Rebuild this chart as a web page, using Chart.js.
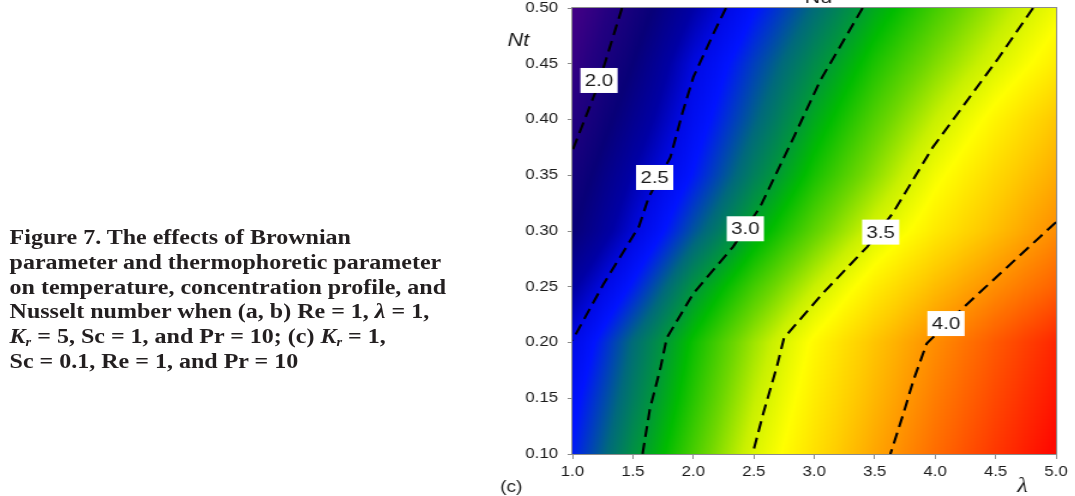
<!DOCTYPE html>
<html>
<head>
<meta charset="utf-8">
<script src="https://cdn.jsdelivr.net/npm/chart.js"></script>
<style>
  html, body { margin: 0; padding: 0; background: #fff; overflow: hidden; }
  /* the source figure is stretched sideways, so the whole page is too */
  #page { position: absolute; left: 0; top: 0; width: 896px; height: 496px; transform: scaleX(1.2); transform-origin: 0 0; }
  #chart { position: absolute; left: 0; top: 0; }
  #caption { position: absolute; left: 8px; top: 225px; font: bold 20px 'Liberation Serif', 'Times New Roman', serif; line-height: 24.8px; color: #231f20; white-space: nowrap; }
  #caption sub { font-size: 12px; vertical-align: -3px; line-height: 0; }
</style>
</head>
<body>
<div id="page">
  <div id="caption">
    Figure 7. The effects of Brownian<br>
    parameter and thermophoretic parameter<br>
    on temperature, concentration profile, and<br>
    Nusselt number when (a, b) Re = 1, <i>λ</i> = 1,<br>
    <i>K</i><sub><i>r</i></sub> = 5, Sc = 1, and Pr = 10; (c) <i>K</i><sub><i>r</i></sub> = 1,<br>
    Sc = 0.1, Re = 1, and Pr = 10
  </div>
  <canvas id="chart" width="896" height="496"></canvas>
</div>
<script>
// axis values (also the grid nodes of the Nu field)
const lambdaValues = [1.0, 1.5, 2.0, 2.5, 3.0, 3.5, 4.0, 4.5, 5.0];
const ntValues = [0.10, 0.15, 0.20, 0.25, 0.30, 0.35, 0.40, 0.45, 0.50];

// Nu, one row per Nt, along lambdaValues
const nuNt010 = [2.64, 2.96, 3.23, 3.50, 3.72, 3.94, 4.15, 4.34, 4.52];
const nuNt015 = [2.58, 2.89, 3.17, 3.44, 3.67, 3.88, 4.09, 4.28, 4.46];
const nuNt020 = [2.50, 2.83, 3.12, 3.38, 3.62, 3.83, 4.03, 4.22, 4.40];
const nuNt025 = [2.33, 2.64, 2.97, 3.22, 3.45, 3.67, 3.86, 4.03, 4.19];
const nuNt030 = [2.14, 2.46, 2.77, 3.04, 3.27, 3.49, 3.68, 3.85, 4.03];
const nuNt035 = [2.05, 2.36, 2.63, 2.90, 3.14, 3.35, 3.57, 3.75, 3.92];
const nuNt040 = [1.95, 2.25, 2.55, 2.80, 3.04, 3.25, 3.45, 3.64, 3.82];
const nuNt045 = [1.86, 2.15, 2.48, 2.72, 2.94, 3.15, 3.33, 3.50, 3.67];
const nuNt050 = [1.78, 2.05, 2.35, 2.61, 2.83, 3.04, 3.22, 3.39, 3.56];
const nuRows = [nuNt010, nuNt015, nuNt020, nuNt025, nuNt030, nuNt035, nuNt040, nuNt045, nuNt050];

// contour lines (lambda, Nt)
const c20Lambda = [1.41, 1.21, 1.00];
const c20Nt     = [0.50, 0.43, 0.372];
const c25Lambda = [2.27, 2.17, 2.00, 1.91, 1.81, 1.63, 1.55, 1.26, 1.00];
const c25Nt     = [0.50, 0.478, 0.438, 0.406, 0.366, 0.33, 0.304, 0.253, 0.202];
const c30Lambda = [3.40, 3.05, 2.83, 2.55, 2.33, 2.00, 1.78, 1.73, 1.64, 1.58];
const c30Nt     = [0.50, 0.435, 0.384, 0.321, 0.286, 0.244, 0.204, 0.178, 0.14, 0.10];
const c35Lambda = [4.81, 4.51, 3.98, 3.65, 3.44, 3.07, 2.75, 2.69, 2.58, 2.49];
const c35Nt     = [0.50, 0.453, 0.375, 0.316, 0.286, 0.244, 0.204, 0.178, 0.137, 0.10];
const c40Lambda = [5.00, 4.60, 4.21, 3.93, 3.82, 3.74, 3.63];
const c40Nt     = [0.308, 0.268, 0.229, 0.199, 0.166, 0.137, 0.10];

// contour labels
const labelText   = ['2.0', '2.5', '3.0', '3.5', '4.0'];
const labelLambda = [1.22, 1.68, 2.43, 3.55, 4.09];
const labelNt     = [0.435, 0.348, 0.302, 0.299, 0.217];

// colour ramp (Nu -> rgb)
const rampStops = [
  [1.75, [75, 0, 135]],
  [1.95, [35, 0, 128]],
  [2.15, [8, 0, 120]],
  [2.35, [0, 0, 165]],
  [2.50, [0, 10, 230]],
  [2.62, [0, 20, 255]],
  [2.82, [0, 105, 125]],
  [2.98, [0, 150, 60]],
  [3.10, [0, 188, 0]],
  [3.30, [110, 215, 0]],
  [3.45, [200, 240, 0]],
  [3.60, [255, 255, 0]],
  [3.80, [255, 205, 0]],
  [4.00, [255, 150, 0]],
  [4.20, [255, 95, 0]],
  [4.50, [255, 10, 0]]
];

function findCell(arr, v) {
  let i = 0;
  while (i < arr.length - 2 && v > arr[i + 1]) i++;
  let t = (v - arr[i]) / (arr[i + 1] - arr[i]);
  return [i, Math.min(1, Math.max(0, t))];
}

function nuAt(lam, nt) {
  const [i, tx] = findCell(lambdaValues, lam);
  const [j, ty] = findCell(ntValues, nt);
  const a = nuRows[j][i], b = nuRows[j][i + 1];
  const c = nuRows[j + 1][i], d = nuRows[j + 1][i + 1];
  return (a * (1 - tx) + b * tx) * (1 - ty) + (c * (1 - tx) + d * tx) * ty;
}

function colorFor(v) {
  if (v <= rampStops[0][0]) return rampStops[0][1];
  for (let k = 1; k < rampStops.length; k++) {
    if (v <= rampStops[k][0]) {
      const [v0, c0] = rampStops[k - 1];
      const [v1, c1] = rampStops[k];
      const t = (v - v0) / (v1 - v0);
      return [0, 1, 2].map(n => c0[n] + (c1[n] - c0[n]) * t);
    }
  }
  return rampStops[rampStops.length - 1][1];
}

const heatmap = {
  id: 'heatmap',
  beforeDatasetsDraw(chart) {
    const { ctx, chartArea: a, scales: { x, y } } = chart;
    const w = Math.round(a.right - a.left), h = Math.round(a.bottom - a.top);
    const off = document.createElement('canvas');
    off.width = w; off.height = h;
    const octx = off.getContext('2d');
    const img = octx.createImageData(w, h);
    for (let j = 0; j < h; j++) {
      const nt = y.getValueForPixel(a.top + j + 0.5);
      for (let i = 0; i < w; i++) {
        const lam = x.getValueForPixel(a.left + i + 0.5);
        const col = colorFor(nuAt(lam, nt));
        const p = (j * w + i) * 4;
        img.data[p] = col[0]; img.data[p + 1] = col[1]; img.data[p + 2] = col[2]; img.data[p + 3] = 255;
      }
    }
    octx.putImageData(img, 0, 0);
    ctx.drawImage(off, a.left, a.top, a.right - a.left, a.bottom - a.top);
  }
};

const annotations = {
  id: 'annotations',
  afterDatasetsDraw(chart) {
    const { ctx, scales: { x, y } } = chart;
    ctx.save();
    ctx.font = '17px "Liberation Sans", Arial, sans-serif';
    ctx.textAlign = 'center';
    ctx.textBaseline = 'middle';
    labelText.forEach((t, i) => {
      const px = x.getPixelForValue(labelLambda[i]);
      const py = y.getPixelForValue(labelNt[i]);
      ctx.fillStyle = '#fff';
      ctx.fillRect(px - 15.5, py - 12.5, 31, 25);
      ctx.fillStyle = '#1a1a1a';
      ctx.fillText(t, px, py + 1);
    });
    ctx.restore();
  },
  afterDraw(chart) {
    const { ctx, chartArea: a } = chart;
    ctx.save();
    ctx.strokeStyle = '#8c8c8c';
    ctx.lineWidth = 1;
    ctx.strokeRect(a.left - 0.5, a.top - 0.5, a.right - a.left + 1, a.bottom - a.top + 1);
    ctx.fillStyle = '#1a1a1a';
    ctx.textBaseline = 'middle';
    ctx.textAlign = 'center';
    ctx.font = 'italic 18px "Liberation Sans", Arial, sans-serif';
    ctx.fillText('Nt', 432, 41);
    ctx.font = '16px "Liberation Sans", Arial, sans-serif';
    ctx.fillText('(c)', 426, 488);
    ctx.font = 'italic 20px "Liberation Serif", serif';
    ctx.fillText('λ', 852, 487);
    ctx.textBaseline = 'alphabetic';
    ctx.font = '18px "Liberation Sans", Arial, sans-serif';
    ctx.fillText('Nu', 682, 3);
    ctx.restore();
  }
};

const contours = [
  [c20Lambda, c20Nt], [c25Lambda, c25Nt], [c30Lambda, c30Nt], [c35Lambda, c35Nt], [c40Lambda, c40Nt]
];

const tickFont = { family: '"Liberation Sans", Arial, sans-serif', size: 14 };

new Chart(document.getElementById('chart'), {
  type: 'scatter',
  data: {
    datasets: contours.map(([xs, ys]) => ({
      data: xs.map((v, i) => ({ x: v, y: ys[i] })),
      showLine: true,
      borderColor: '#000',
      borderWidth: 2.1,
      borderDash: [11, 6],
      pointRadius: 0,
      fill: false,
      tension: 0
    }))
  },
  options: {
    responsive: false,
    animation: false,
    devicePixelRatio: 1,
    layout: { padding: { left: 427, right: 16, top: 8, bottom: 0 } },
    plugins: { legend: { display: false }, tooltip: { enabled: false } },
    scales: {
      x: {
        type: 'linear', min: 1, max: 5,
        afterBuildTicks: s => { s.ticks = lambdaValues.map(v => ({ value: v })); },
        afterFit: s => { s.height = 42; s.paddingLeft = 0; s.paddingRight = 0; },
        ticks: { font: tickFont, color: '#1a1a1a', padding: 5, maxRotation: 0, autoSkip: false, callback: v => v.toFixed(1) },
        grid: { drawOnChartArea: false, tickLength: 5, color: '#8c8c8c' },
        border: { color: '#8c8c8c' }
      },
      y: {
        type: 'linear', min: 0.1, max: 0.5,
        afterBuildTicks: s => { s.ticks = ntValues.map(v => ({ value: v })); },
        afterFit: s => { s.width = 50; s.paddingTop = 0; s.paddingBottom = 0; },
        ticks: { font: tickFont, color: '#1a1a1a', padding: 8, autoSkip: false, callback: v => v.toFixed(2) },
        grid: { drawOnChartArea: false, tickLength: 4, color: '#8c8c8c' },
        border: { color: '#8c8c8c' }
      }
    }
  },
  plugins: [heatmap, annotations]
});
</script>
</body>
</html>
